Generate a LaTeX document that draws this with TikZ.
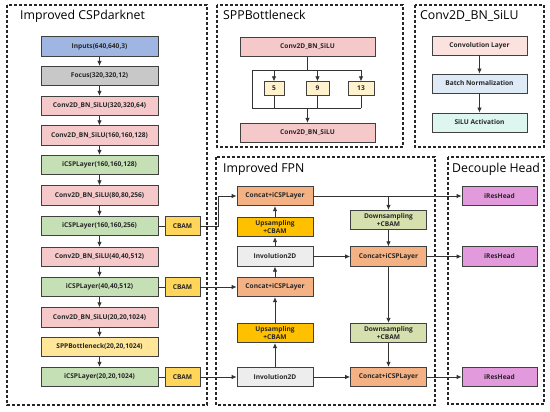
\documentclass[tikz,border=0pt]{standalone}
\usepackage{fontspec}
\setmainfont{Open Sans}
\usetikzlibrary{arrows.meta}

\definecolor{cInput}{RGB}{160,182,226}
\definecolor{cFocus}{RGB}{200,200,200}
\definecolor{cConv}{RGB}{245,200,202}
\definecolor{cCsp}{RGB}{197,224,180}
\definecolor{cSpp}{RGB}{255,230,153}
\definecolor{cCbam}{RGB}{255,214,90}
\definecolor{cCat}{RGB}{244,177,131}
\definecolor{cUp}{RGB}{255,192,0}
\definecolor{cInv}{RGB}{237,237,237}
\definecolor{cDown}{RGB}{214,224,174}
\definecolor{cHead}{RGB}{226,154,220}
\definecolor{cPool}{RGB}{255,242,204}
\definecolor{cLayA}{RGB}{251,226,222}
\definecolor{cLayB}{RGB}{222,234,246}
\definecolor{cLayC}{RGB}{222,246,240}

\begin{document}
\begin{tikzpicture}[
  x=1pt, y=-1pt,
  box/.style={draw=black!75, line width=0.8pt, inner sep=0pt, minimum height=19.5pt,
    align=center, text=black!85, font=\fontsize{6.6}{7.5}\selectfont\bfseries},
  bbbox/.style={box, minimum width=117pt},
  cbambox/.style={box, fill=cCbam, minimum width=35pt},
  fpnbox/.style={box, minimum width=76pt},
  panel/.style={draw=black!85, line width=1.2pt, dash pattern=on 3pt off 2pt},
  ttl/.style={anchor=base west, inner sep=0pt, font=\fontsize{12.3}{14}\selectfont},
  ln/.style={draw=black!80, line width=0.8pt},
  arr/.style={ln, -{Latex[length=5pt,width=4.5pt]}},
]
\useasboundingbox (0,0) rectangle (550,412);

% 虚线分区
\draw[panel] (7,5) rectangle (207,405);
\draw[panel] (217,5) rectangle (403,147);
\draw[panel] (415,5) rectangle (544,147);
\draw[panel] (216,157) rectangle (435,405);
\draw[panel] (448,157) rectangle (544,404);

% 分区标题
\node[ttl] (tBack) at (20,20) {Improved CSPdarknet};
\node[ttl] (tSpp) at (223,20) {SPPBottleneck};
\node[ttl] (tCbs) at (420,20) {Conv2D\_BN\_SiLU};
\node[ttl] (tFpn) at (223,173) {Improved FPN};
\node[ttl] (tHead) at (452,172) {Decouple Head};

% 主干网络
\node[bbbox, fill=cInput] (in1) at (99.5,46.5) {Inputs(640,640,3)};
\node[bbbox, fill=cFocus] (foc) at (99.5,76) {Focus(320,320,12)};
\node[bbbox, fill=cConv] (cv1) at (99.5,106) {Conv2D\_BN\_SiLU(320,320,64)};
\node[bbbox, fill=cConv] (cv2) at (99.5,135.5) {Conv2D\_BN\_SiLU(160,160,128)};
\node[bbbox, fill=cCsp] (csp1) at (99.5,165) {iCSPLayer(160,160,128)};
\node[bbbox, fill=cConv] (cv3) at (99.5,195.5) {Conv2D\_BN\_SiLU(80,80,256)};
\node[bbbox, fill=cCsp] (csp2) at (99.5,226) {iCSPLayer(160,160,256)};
\node[bbbox, fill=cConv] (cv4) at (99.5,257) {Conv2D\_BN\_SiLU(40,40,512)};
\node[bbbox, fill=cCsp] (csp3) at (99.5,287) {iCSPLayer(40,40,512)};
\node[bbbox, fill=cConv] (cv5) at (99.5,317.5) {Conv2D\_BN\_SiLU(20,20,1024)};
\node[bbbox, fill=cSpp] (spp) at (99.5,347) {SPPBottleneck(20,20,1024)};
\node[bbbox, fill=cCsp] (csp4) at (99.5,377) {iCSPLayer(20,20,1024)};

\draw[arr] (in1) -- (foc);
\draw[arr] (foc) -- (cv1);
\draw[arr] (cv1) -- (cv2);
\draw[arr] (cv2) -- (csp1);
\draw[arr] (csp1) -- (cv3);
\draw[arr] (cv3) -- (csp2);
\draw[arr] (csp2) -- (cv4);
\draw[arr] (cv4) -- (csp3);
\draw[arr] (csp3) -- (cv5);
\draw[arr] (cv5) -- (spp);
\draw[arr] (spp) -- (csp4);

% CBAM 分支
\node[cbambox] (cb1) at (182.5,226) {CBAM};
\node[cbambox] (cb2) at (182.5,287) {CBAM};
\node[cbambox] (cb3) at (182.5,377) {CBAM};
\draw[ln] (csp2) -- (cb1);
\draw[ln] (csp3) -- (cb2);
\draw[ln] (csp4) -- (cb3);

% SPPBottleneck 结构
\node[box, fill=cConv, minimum width=135pt] (sct) at (307.5,47) {Conv2D\_BN\_SiLU};
\node[box, fill=cConv, minimum width=135pt] (scb) at (307.5,133) {Conv2D\_BN\_SiLU};
\node[box, fill=cPool, minimum width=20pt, minimum height=13.5pt] (p5) at (274,88.5) {5};
\node[box, fill=cPool, minimum width=23pt, minimum height=13.5pt] (p9) at (317.5,88.5) {9};
\node[box, fill=cPool, minimum width=26pt, minimum height=13.5pt] (p13) at (361,88.5) {13};
\coordinate (sl) at (252,70);
\coordinate (bl) at (252,108);
\draw[ln] (sct) -- (sct |- sl);
\draw[ln] (sl) -- (sl -| p13);
\draw[ln] (sl) -- (bl) -- (bl -| p13);
\draw[arr] (p5 |- sl) -- (p5);
\draw[arr] (p9 |- sl) -- (p9);
\draw[arr] (p13 |- sl) -- (p13);
\draw[ln] (p5) -- (p5 |- bl);
\draw[ln] (p9) -- (p9 |- bl);
\draw[ln] (p13) -- (p13 |- bl);
\draw[arr] (scb |- bl) -- (scb);

% Conv2D_BN_SiLU 结构
\node[box, fill=cLayA, minimum width=95pt, minimum height=19pt] (lay1) at (479.5,45.5) {Convolution Layer};
\node[box, fill=cLayB, minimum width=95pt, minimum height=19pt] (lay2) at (479.5,83.5) {Batch Normalization};
\node[box, fill=cLayC, minimum width=95pt, minimum height=19pt] (lay3) at (479.5,122.5) {SiLU Activation};
\draw[arr] (lay1) -- (lay2);
\draw[arr] (lay2) -- (lay3);

% FPN 部分
\node[fpnbox, fill=cCat] (cat1) at (275,196) {Concat+iCSPLayer};
\node[fpnbox, fill=cUp] (up1) at (275,227) {Upsampling\\+CBAM};
\node[fpnbox, fill=cInv] (inv1) at (275,256.5) {Involution2D};
\node[fpnbox, fill=cCat] (cat2) at (275,287) {Concat+iCSPLayer};
\node[fpnbox, fill=cUp] (up2) at (275,333) {Upsampling\\+CBAM};
\node[fpnbox, fill=cInv] (inv2) at (275,377) {Involution2D};
\node[fpnbox, fill=cDown] (dn1) at (388.5,220) {Downsampling\\+CBAM};
\node[fpnbox, fill=cCat] (cat3) at (388.5,256.5) {Concat+iCSPLayer};
\node[fpnbox, fill=cDown] (dn2) at (388.5,333) {Downsampling\\+CBAM};
\node[fpnbox, fill=cCat] (cat4) at (388.5,377) {Concat+iCSPLayer};

% 检测头
\node[box, fill=cHead, minimum width=75pt] (hd1) at (499.5,196) {iResHead};
\node[box, fill=cHead, minimum width=75pt] (hd2) at (499.5,256.5) {iResHead};
\node[box, fill=cHead, minimum width=75pt] (hd3) at (499.5,377) {iResHead};

% 连接
\coordinate (j1) at (218,226);
\draw[arr] (cb1) -- (j1) |- (cat1);
\draw[arr] (cb2) -- (cat2);
\draw[arr] (cb3) -- (inv2);
\draw[arr] (inv2) -- (up2);
\draw[arr] (up2) -- (cat2);
\draw[arr] (cat2) -- (inv1);
\draw[arr] (inv1) -- (up1);
\draw[arr] (up1) -- (cat1);
\draw[arr] (cat1) -- (hd1);
\draw[arr] (cat1 -| dn1) -- (dn1);
\draw[arr] (dn1) -- (cat3);
\draw[arr] (inv1) -- (cat3);
\draw[arr] (cat3) -- (hd2);
\draw[arr] (cat3) -- (dn2);
\draw[arr] (dn2) -- (cat4);
\draw[arr] (inv2) -- (cat4);
\draw[arr] (cat4) -- (hd3);

\end{tikzpicture}
\end{document}
